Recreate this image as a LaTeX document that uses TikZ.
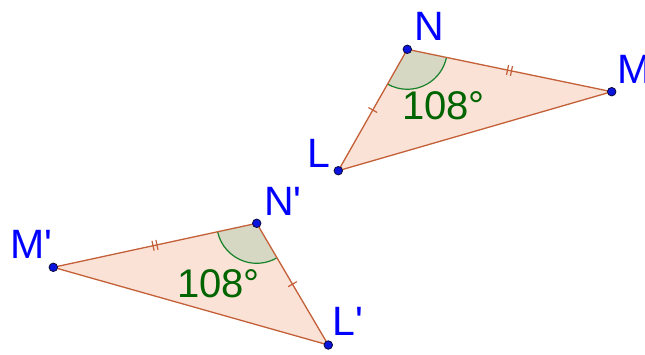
\documentclass[tikz,border=0pt]{standalone}
\usepackage{fontspec}
\setmainfont{Liberation Sans}
\newfontfamily\plainsans{Liberation Sans}
\usetikzlibrary{calc,angles}
\definecolor{edgec}{RGB}{196,96,56}
\definecolor{fillc}{RGB}{250,226,214}
\definecolor{secfill}{RGB}{214,216,196}
\definecolor{arcc}{RGB}{20,130,40}
\definecolor{angtxt}{RGB}{0,100,0}
\definecolor{ptc}{RGB}{10,20,220}
\definecolor{ptd}{RGB}{10,10,60}
\definecolor{lblc}{RGB}{0,0,255}
\tikzset{
  edge/.style={draw=edgec, line width=1.3pt, line join=round},
  tri/.style={fill=fillc},
  tickmark/.style={draw=edgec, line width=1.2pt},
  pt/.style={circle, fill=ptc, draw=ptd, line width=0.8pt, inner sep=0pt, minimum size=8.5pt},
  lbl/.style={text=lblc, font=\plainsans\fontsize{41}{45}\selectfont, inner sep=0pt},
  angtext/.style={text=angtxt, font=\fontsize{40}{44}\selectfont, inner sep=0pt},
  sector/.style={draw=arcc, fill=secfill, line width=1.2pt, angle radius=40pt}
}
\begin{document}
\begin{tikzpicture}[x=1pt,y=-1pt]
\useasboundingbox (0,0) rectangle (645,354);
\coordinate (N) at (407.3,49.3);
\coordinate (M) at (611.7,91.7);
\coordinate (L) at (338.3,170.7);
\coordinate (N2) at (256.7,223.3);
\coordinate (M2) at (53.3,267.3);
\coordinate (L2) at (328.3,345);
% fills
\fill[tri] (N) -- (M) -- (L) -- cycle;
\fill[tri] (N2) -- (M2) -- (L2) -- cycle;
% angle sectors
\pic[sector] {angle=L--N--M};
\pic[sector] {angle=M2--N2--L2};
% edges
\draw[edge] (N) -- (M) -- (L) -- cycle;
\draw[edge] (N2) -- (M2) -- (L2) -- cycle;
% ticks
\draw[tickmark] ($(N)!0.5!(L)!5pt!90:(L)$) -- ($(N)!0.5!(L)!5pt!-90:(L)$);
\draw[tickmark] ($(N2)!0.5!(L2)!5pt!90:(L2)$) -- ($(N2)!0.5!(L2)!5pt!-90:(L2)$);
\draw[tickmark] ($(N)!0.5!(M)!2pt!(M)!5pt!90:(M)$) -- ($(N)!0.5!(M)!2pt!(M)!5pt!-90:(M)$);
\draw[tickmark] ($(N)!0.5!(M)!-2pt!(M)!5pt!90:(M)$) -- ($(N)!0.5!(M)!-2pt!(M)!5pt!-90:(M)$);
\draw[tickmark] ($(N2)!0.5!(M2)!2pt!(M2)!5pt!90:(M2)$) -- ($(N2)!0.5!(M2)!2pt!(M2)!5pt!-90:(M2)$);
\draw[tickmark] ($(N2)!0.5!(M2)!-2pt!(M2)!5pt!90:(M2)$) -- ($(N2)!0.5!(M2)!-2pt!(M2)!5pt!-90:(M2)$);
% angle labels
\node[angtext, anchor=base west] (a1) at (402,119.5) {108°};
\node[angtext, anchor=base west] (a2) at (177,297.5) {108°};
% points
\node[pt] (pN) at (N) {};
\node[pt] (pM) at (M) {};
\node[pt] (pL) at (L) {};
\node[pt] (pN2) at (N2) {};
\node[pt] (pM2) at (M2) {};
\node[pt] (pL2) at (L2) {};
% labels
\node[lbl, anchor=base west] (tN) at (414,40) {N};
\node[lbl, anchor=base west] (tM) at (617,83) {M};
\node[lbl, anchor=base west] (tL) at (307,167) {L};
\node[lbl, anchor=base west] (tN2) at (264,215) {N'};
\node[lbl, anchor=base west] (tM2) at (10,258) {M'};
\node[lbl, anchor=base west] (tL2) at (332,335) {L'};
\end{tikzpicture}
\end{document}
